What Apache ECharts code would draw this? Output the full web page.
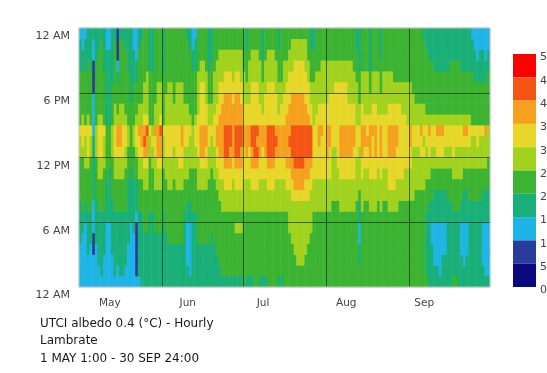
<!DOCTYPE html>
<html>
<head>
<meta charset="utf-8">
<title>UTCI albedo 0.4 - Lambrate</title>
<script src="https://cdn.jsdelivr.net/npm/echarts@6/dist/echarts.min.js"></script>
<style>
  html, body { margin: 0; padding: 0; background: #fff; }
  #chart { width: 547px; height: 373px; }
</style>
</head>
<body>
<div id="chart"></div>
<script>
// one string per day, 24 digits = hours 0..23 (bottom to top)
// digit = colour class of the legend: 1 => 5-10, 2 => 10-15 ... 8 => 40-45 °C
const may = [
  '222233 334444 556444 443332', '222223 344444 566544 443322', '222222 334445 556444 443332',
  '222333 344445 666544 444333', '222233 344444 556444 443333', '222112 223333 332222 111223',
  '222233 334444 555444 444333', '223333 344455 666544 444433', '233333 344455 666544 444443',
  '222333 344445 556444 443333', '222222 333344 444333 333322', '222222 333334 444333 333322',
  '222333 334444 555444 433333', '233333 344455 666554 444443', '223333 344455 677544 432111',
  '233333 344455 677554 444443', '233333 344455 666554 444443', '223333 344445 566544 444433',
  '222233 333344 455444 443333', '222222 333334 444443 333333', '222223 333344 455444 433322',
  '211111 233344 566544 433222', '233333 344455 667554 444433', '333333 344455 677554 444443',
  '333334 444556 787655 544444', '333334 444556 778655 554444', '333333 344444 556444 443333',
  '333333 344445 565444 443333', '333334 444555 667554 444444', '333334 444556 777555 544444',
  '333334 444556 778655 544444'
];
const jun = [
  '333333 344445 556444 443333', '333334 444455 666555 444444', '333344 444555 666555 544444',
  '333344 444555 666555 544444', '333344 444455 566554 444444', '333344 444555 666555 544444',
  '333344 444556 666555 544444', '333344 444556 677555 544444', '333333 344455 566554 444444',
  '332222 334455 566554 444443', '322222 334445 556544 444433', '333333 344445 555444 443322',
  '333333 344445 566544 443332', '333344 444555 666655 554444', '333344 444556 777666 655444',
  '333344 444556 777666 655444', '333344 444556 677665 554444', '333344 444455 566554 443333',
  '333334 444445 556554 444333', '333344 444455 566655 554444', '333444 444556 677665 555444',
  '334444 445566 777766 655544', '344444 455566 777776 655544', '344444 455667 888777 665544',
  '344444 455667 888777 665544', '344444 455667 788777 665544', '344444 455566 777776 655544',
  '344445 455667 888777 665544', '344445 455667 888777 665544', '344445 455667 788776 655544'
];
const jul = [
  '444444 455566 677665 554444', '344444 455566 777665 544433', '344444 455566 677665 555444',
  '344444 455667 788666 655544', '444444 455667 888666 655544', '444444 455667 878666 655544',
  '344444 455566 777665 555444', '344444 455566 677655 544333', '344444 455566 777666 555444',
  '444444 455667 888666 655544', '444444 455667 888666 655544', '444444 455667 888666 655544',
  '444444 455566 787666 555444', '344444 455566 777655 544433', '344444 455566 777665 544444',
  '444444 455566 777666 555444', '444444 455667 777766 655444', '444445 555667 787776 665544',
  '444455 556677 888777 665554', '444555 556778 888777 666554', '445555 556778 888777 666554',
  '445555 556778 888777 666554', '445555 556778 888777 666554', '444555 556677 888776 665554',
  '444455 556677 888766 655444', '444445 555667 888665 544433', '444444 455566 666555 544433',
  '444444 455566 666655 554444', '444444 455566 677665 554444', '444444 455566 667665 555444',
  '444444 455566 666665 555444'
];
const aug = [
  '444444 455566 777665 555444', '444444 455566 677666 555444', '444444 445555 566666 555444',
  '444444 445555 566666 655444', '444444 445556 666666 655444', '444444 455566 777666 655444',
  '444444 455566 777666 655444', '444444 455566 777666 655444', '444444 455566 777665 555444',
  '444444 455566 777665 555444', '444444 455566 677665 554444', '444444 445555 666555 544433',
  '443322 334555 566554 443333', '444444 455566 777665 554444', '444444 445556 677655 554444',
  '444444 445556 676655 554444', '444444 455566 777655 443333', '444444 455566 667665 554444',
  '444444 455566 777665 554444', '444444 445556 666655 554444', '444444 455566 777655 444333',
  '444444 445556 666655 554444', '444444 445556 666655 554444', '444444 455666 777665 554444',
  '444444 455666 777665 554444', '444444 455666 777665 544444', '444444 455566 677665 544444',
  '444444 445566 666665 544444', '444444 445566 666655 544444', '444444 445556 666655 544444',
  '444444 445556 666555 544444'
];
const sep = [
  '444444 445556 677555 544444', '444444 445555 566555 444444', '444444 444555 566554 444444',
  '444444 444555 566554 444444', '444444 444555 667554 444444', '444444 444555 656554 444443',
  '433333 344455 566544 444433', '333333 334455 667544 444333', '333322 334445 566544 444333',
  '332222 333445 566544 443333', '332222 333445 667544 443333', '322222 333445 667544 443333',
  '333222 333445 667544 443333', '333222 333445 566544 443333', '333333 334445 566544 443333',
  '333333 334445 566544 444333', '433333 344455 666544 444333', '433333 344455 566544 444333',
  '333333 344455 566544 444333', '333222 334455 566544 443333', '332222 333445 567544 443333',
  '333222 333445 567544 443333', '333333 334445 566544 443333', '333333 334445 556444 443332',
  '333333 334445 556444 433322', '333333 334445 566444 433222', '333333 334445 556444 433322',
  '332222 333445 556444 433322', '322222 333445 557444 433222', '322222 333444 555444 443322'
];

const months = [may, jun, jul, aug, sep];
const monthNames = ['May', 'Jun', 'Jul', 'Aug', 'Sep'];
const monthLabelDays = [11, 40, 68, 99, 128];
const hourTicks = [0, 6, 12, 18, 24];
const hourNames = ['12 AM', '6 AM', '12 PM', '6 PM', '12 AM'];
const legendTicks = [0, 5, 10, 15, 20, 25, 30, 35, 40, 45, 50];
const legendColors = ['#0a0a80', '#283c9b', '#1eb4e6', '#19af78', '#3cb432',
  '#a0d21e', '#e6d728', '#f5a01e', '#f55514', '#ff0000'];

const days = [].concat(...months);
const hours = [];
for (let h = 0; h < 24; h++) hours.push(h);

let heatData = [];
days.forEach((col, d) => {
  const digits = col.replace(/ /g, '');
  for (let h = 0; h < 24; h++) {
    heatData.push([d, h, Number(digits[h]) * 5 + 2.5]);
  }
});

// month boundaries for the dark grid lines
let monthStarts = [];
let acc = 0;
months.slice(0, -1).forEach(m => { acc += m.length; monthStarts.push(acc); });

const pieces = [];
for (let i = 0; i < legendColors.length; i++) {
  pieces.push({ gte: legendTicks[i], lt: legendTicks[i + 1], color: legendColors[i] });
}

const grid = { left: 79, top: 28, width: 411, height: 259 };
const bar = { left: 513, top: 54, size: 23.3 };
const font = 'DejaVu Sans';

let chart = echarts.init(document.getElementById('chart'));

let option = {
  animation: false,
  textStyle: { fontFamily: font },
  title: {
    text: 'UTCI albedo 0.4 (°C) - Hourly\nLambrate\n1 MAY 1:00 - 30 SEP 24:00',
    left: 35,
    top: 310,
    textStyle: { fontSize: 12, fontWeight: 'normal', color: '#1a1a1a', lineHeight: 17.5, fontFamily: font }
  },
  grid: [
    { ...grid },
    { ...grid, show: true, z: 10, borderColor: '#c8c8c8', borderWidth: 1, backgroundColor: 'transparent' }
  ],
  xAxis: [
    {
      type: 'category',
      gridIndex: 0,
      data: days.map((d, i) => i),
      axisLine: { show: false },
      axisTick: { show: false },
      splitLine: { show: false },
      axisLabel: {
        margin: 11,
        color: '#444',
        fontSize: 10.5,
        interval: (index) => monthLabelDays.indexOf(index) >= 0,
        formatter: (value, index) => monthNames[monthLabelDays.indexOf(index)]
      }
    },
    { type: 'value', gridIndex: 1, min: 0, max: days.length, show: false }
  ],
  yAxis: [
    { type: 'category', gridIndex: 0, data: hours, show: false },
    {
      type: 'value',
      gridIndex: 1,
      min: 0,
      max: 24,
      interval: 6,
      axisLine: { show: false },
      axisTick: { show: false },
      splitLine: { show: false },
      axisLabel: {
        margin: 9,
        color: '#444',
        fontSize: 11,
        verticalAlign: 'top',
        padding: [3, 0, 0, 0],
        formatter: (v) => hourNames[hourTicks.indexOf(v)]
      }
    }
  ],
  visualMap: {
    type: 'piecewise',
    seriesIndex: 0,
    pieces: pieces,
    orient: 'vertical',
    left: bar.left,
    top: bar.top,
    padding: 0,
    itemAlign: 'left',
    itemWidth: 23,
    itemHeight: bar.size,
    itemGap: 0,
    itemSymbol: 'rect',
    showLabel: false,
    textGap: 0,
    hoverLink: false
  },
  graphic: legendTicks.map((t, i) => ({
    type: 'text',
    left: 540,
    top: bar.top + (legendTicks.length - 1 - i) * bar.size - 2,
    style: { text: String(t), fill: '#444', font: '11px ' + font }
  })),
  series: [
    {
      type: 'heatmap',
      xAxisIndex: 0,
      yAxisIndex: 0,
      data: heatData,
      progressive: 0,
      itemStyle: { borderWidth: 0 }
    },
    {
      type: 'line',
      xAxisIndex: 1,
      yAxisIndex: 1,
      data: [],
      z: 5,
      markLine: {
        silent: true,
        symbol: 'none',
        label: { show: false },
        lineStyle: { color: 'rgba(20,40,20,0.65)', width: 1, type: 'solid' },
        data: monthStarts.map(d => ({ xAxis: d })).concat(hourTicks.slice(1, -1).map(h => ({ yAxis: h })))
      }
    }
  ]
};

chart.setOption(option);
</script>
</body>
</html>
